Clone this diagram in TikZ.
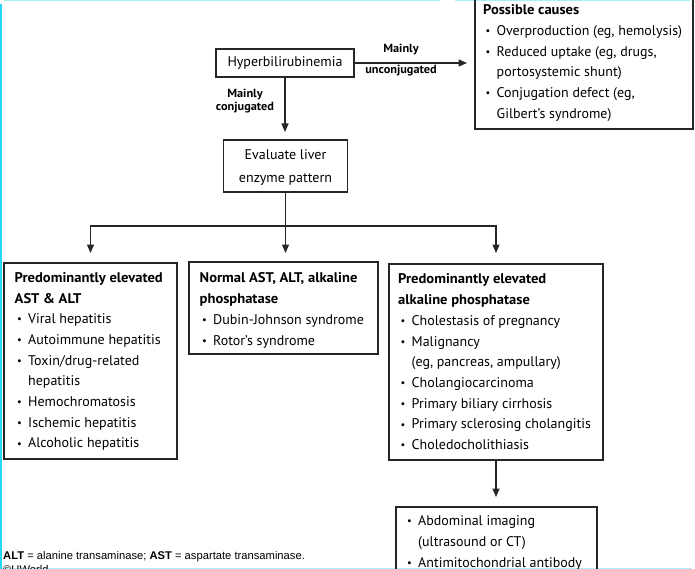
\documentclass[tikz,border=0pt]{standalone}
\usepackage{fontspec}
\setmainfont{PT Sans}[BoldFeatures={FakeStretch=1.04}]
\newfontfamily\notefont{Liberation Sans}
\usetikzlibrary{arrows.meta}
\definecolor{edgecyan}{RGB}{40,215,245}
\definecolor{edgecyanlt}{RGB}{170,238,250}
\newcommand\bu{\makebox[13.5pt][l]{\hspace{2.5pt}\raisebox{0.8pt}{\fontsize{10.5}{10}\selectfont •}}}
\newcommand\ind{\hspace{13.5pt}}
\begin{document}
\begin{tikzpicture}[x=1pt,y=-1pt,
  bx/.style={draw=black!85, line width=1.3pt, inner sep=0pt, outer sep=0pt},
  ln/.style={draw=black!85, line width=1.3pt},
  arr/.style={ln, -{Triangle[length=8.5pt,width=7pt]}, shorten >=#1},
  arr/.default=9pt,
  blk/.style={inner sep=0pt, anchor=north west, font=\fontsize{14}{20.7}\selectfont},
  lbl/.style={inner sep=0pt, font=\bfseries\fontsize{11.8}{12}\selectfont},
  note/.style={inner sep=0pt, anchor=base west, font=\notefont\fontsize{11.2}{12}\selectfont}]
\useasboundingbox (0,0) rectangle (695,569);
% screenshot edge artefacts
\fill[edgecyan] (0,4) rectangle (1.5,569);
\fill[edgecyanlt] (4,0) rectangle (440,1.2);
\fill[edgecyanlt] (455,0) rectangle (690,1.2);
\fill[edgecyanlt] (2,567.6) rectangle (692,569);

% boxes
\node[bx, minimum width=138, minimum height=28, font=\fontsize{14}{15}\selectfont] (hyp) at (285,63) {Hyperbilirubinemia};
\node[bx, minimum width=218, minimum height=132] (causes) at (584,63) {};
\node[bx, minimum width=124, minimum height=52] (eval) at (285.5,166) {};
\node[bx, minimum width=173, minimum height=196] (left) at (90.5,361) {};
\node[bx, minimum width=189, minimum height=92] (mid) at (283.5,308) {};
\node[bx, minimum width=214, minimum height=196] (right) at (496,362) {};
\node[bx, minimum width=201, minimum height=83] (bottom) at (496.5,548.5) {};

% texts
\node[blk] (causestxt) at (483,0) {\begin{tabular}{@{}l@{}}
\textbf{Possible causes}\\
\bu Overproduction (eg, hemolysis)\\
\bu Reduced uptake (eg, drugs,\\
\ind portosystemic shunt)\\
\bu Conjugation defect (eg,\\
\ind Gilbert’s syndrome)
\end{tabular}};

\node[inner sep=0pt, font=\fontsize{14}{23}\selectfont] (evaltxt) at (eval.center) {\begin{tabular}{@{}c@{}}
Evaluate liver\\ enzyme pattern\end{tabular}};

\node[blk] (lefttxt) at (14.5,267.7) {\begin{tabular}{@{}l@{}}
\textbf{Predominantly elevated}\\
\textbf{AST \& ALT}\\
\bu Viral hepatitis\\
\bu Autoimmune hepatitis\\
\bu Toxin/drug-related\\
\ind hepatitis\\
\bu Hemochromatosis\\
\bu Ischemic hepatitis\\
\bu Alcoholic hepatitis
\end{tabular}};

\node[blk] (midtxt) at (199.5,268.3) {\begin{tabular}{@{}l@{}}
\textbf{Normal AST, ALT, alkaline}\\
\textbf{phosphatase}\\
\bu Dubin-Johnson syndrome\\
\bu Rotor’s syndrome
\end{tabular}};

\node[blk] (righttxt) at (398,269.3) {\begin{tabular}{@{}l@{}}
\textbf{Predominantly elevated}\\
\textbf{alkaline phosphatase}\\
\bu Cholestasis of pregnancy\\
\bu Malignancy\\
\ind (eg, pancreas, ampullary)\\
\bu Cholangiocarcinoma\\
\bu Primary biliary cirrhosis\\
\bu Primary sclerosing cholangitis\\
\bu Choledocholithiasis
\end{tabular}};

\node[blk] (bottomtxt) at (404.5,511) {\begin{tabular}{@{}l@{}}
\bu Abdominal imaging\\
\ind (ultrasound or CT)\\
\bu Antimitochondrial antibody
\end{tabular}};

% connector labels
\node[lbl] (unc1) at (401,49.5) {Mainly};
\node[lbl] (unc2) at (401,71) {unconjugated};
\node[lbl] (con1) at (245,95) {Mainly};
\node[lbl] (con2) at (245,108) {conjugated};

% connectors
\draw[arr=8pt] (hyp.east) -- (hyp.east -| causes.west);
\draw[arr=8pt] (hyp.south) -- (hyp.south |- eval.north);
\coordinate (jn) at (285.5,226);
\draw[ln] (eval.south) -- (jn);
\draw[arr=10pt] (jn) -| (left.north);
\draw[arr=9pt] (jn) -- (jn |- mid.north);
\draw[arr=11pt] (jn) -| (right.north);
\draw[arr=10pt] (right.south) -- (right.south |- bottom.north);

% footnote
\node[note] (foot) at (3,559) {\textbf{ALT} = alanine transaminase; \textbf{AST} = aspartate transaminase.};
\node[note] (copy) at (3,573) {©UWorld};
\end{tikzpicture}
\end{document}
